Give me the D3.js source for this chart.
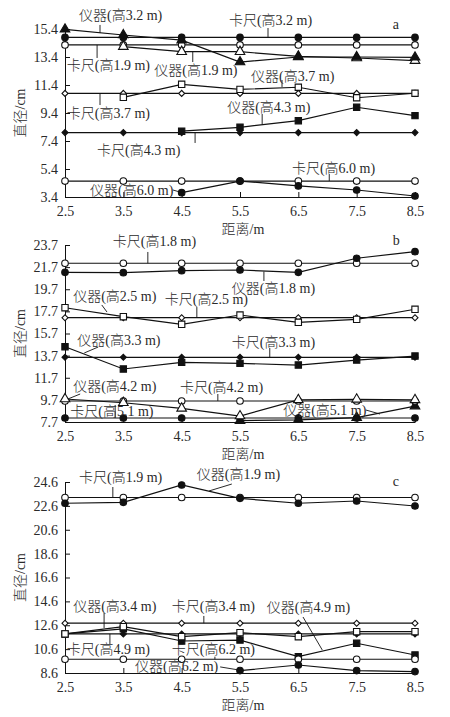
<!DOCTYPE html>
<html>
<head>
<meta charset="utf-8">
<script src="https://cdn.jsdelivr.net/npm/d3@7"></script>
<style>
body { margin: 0; background: #fff; }
text { font-family: "Liberation Serif", "Noto Sans CJK SC", serif; font-size: 14px; font-weight: 300; fill: #2a2a2a; }
</style>
</head>
<body>
<svg id="chart" width="450" height="717"></svg>
<script>
// distances along the x axis (m)
var distance = [2.5, 3.5, 4.5, 5.5, 6.5, 7.5, 8.5];

var ticksA = [3.4, 5.4, 7.4, 9.4, 11.4, 13.4, 15.4];
var ticksB = [7.7, 9.7, 11.7, 13.7, 15.7, 17.7, 19.7, 21.7, 23.7];
var ticksC = [8.6, 10.6, 12.6, 14.6, 16.6, 18.6, 20.6, 22.6, 24.6];

// panel a : diameter (cm), null = not measured
var aCaliper32 = [14.8, 14.8, 14.8, 14.8, 14.8, 14.8, 14.8];
var aInstr32   = [15.38, 14.97, 14.6, 13.04, 13.4, 13.4, 13.38];
var aCaliper19 = [14.26, 14.26, 14.26, 14.26, 14.26, 14.26, 14.26];
var aInstr19   = [null, 14.14, 13.78, 13.78, 13.44, 13.33, 13.14];
var aCaliper37 = [10.8, 10.8, 10.8, 10.8, 10.8, 10.8, 10.8];
var aInstr37   = [null, 10.52, 11.45, 11.09, 11.24, 10.49, 10.81];
var aCaliper43 = [8.0, 8.0, 8.0, 8.0, 8.0, 8.0, 8.0];
var aInstr43   = [null, null, 8.1, 8.38, 8.85, 9.81, 9.21];
var aCaliper60 = [4.54, 4.54, 4.54, 4.54, 4.54, 4.54, 4.54];
var aInstr60   = [null, null, 3.71, 4.54, 4.19, 3.9, 3.47];

// panel b
var bCaliper18 = [22.05, 22.05, 22.05, 22.05, 22.05, 22.05, 22.05];
var bInstr18   = [21.23, 21.2, 21.38, 21.44, 21.23, 22.5, 23.1];
var bCaliper25 = [17.13, 17.13, 17.13, 17.13, 17.13, 17.13, 17.13];
var bInstr25   = [18.03, 17.22, 16.53, 17.37, 16.71, 16.98, 17.89];
var bCaliper33 = [13.55, 13.55, 13.55, 13.55, 13.55, 13.55, 13.55];
var bInstr33   = [14.5, 12.49, 13.09, 13.0, 12.85, 13.3, 13.66];
var bCaliper42 = [9.6, 9.6, 9.6, 9.6, 9.6, 9.6, 9.6];
var bInstr42   = [9.78, 9.44, 8.93, 8.24, 9.7, 9.75, 9.7];
var bCaliper51 = [8.06, 8.06, 8.06, 8.06, 8.06, 8.06, 8.06];
var bInstr51   = [null, null, null, 7.82, 7.9, 8.1, 9.14];

// panel c
var cCaliper19 = [23.3, 23.3, 23.3, 23.3, 23.3, 23.3, 23.3];
var cInstr19   = [22.82, 22.9, 24.35, 23.23, 22.82, 23.01, 22.59];
var cCaliper34 = [12.77, 12.77, 12.77, 12.77, 12.77, 12.77, 12.77];
var cInstr34   = [11.87, 12.48, 11.64, 11.98, 11.64, 12.06, 12.06];
var cCaliper49 = [11.87, 11.87, 11.87, 11.87, 11.87, 11.87, 11.87];
var cInstr49   = [11.87, 12.3, 11.28, 11.36, 9.97, 11.09, 10.11];
var cCaliper62 = [9.75, 9.75, 9.75, 9.75, 9.75, 9.75, 9.75];
var cInstr62   = [null, null, null, 8.8, 9.27, 8.8, 8.72];

var svg = d3.select('#chart');
var x = d3.scaleLinear().domain([2.5, 8.5]).range([65, 415]);

// marker shapes
var shapes = {
  circle:   {type: d3.symbolCircle, size: 34, rot: 0},
  triangle: {type: d3.symbolTriangle, size: 40, rot: 0},
  square:   {type: d3.symbolSquare, size: 40, rot: 0},
  diamond:  {type: d3.symbolSquare, size: 18, rot: 45}
};

var panels = [
  {
    name: 'a', top: 29, bottom: 197, domain: [3.4, 15.4], ticks: ticksA,
    series: [
      {v: aCaliper32, m: 'circle', fill: true},
      {v: aCaliper19, m: 'circle', fill: false},
      {v: aInstr19, m: 'triangle', fill: false},
      {v: aInstr32, m: 'triangle', fill: true},
      {v: aCaliper37, m: 'diamond', fill: false},
      {v: aInstr37, m: 'square', fill: false},
      {v: aCaliper43, m: 'diamond', fill: true},
      {v: aInstr43, m: 'square', fill: true},
      {v: aCaliper60, m: 'circle', fill: false},
      {v: aInstr60, m: 'circle', fill: true}
    ],
    // text start [distance, diameter], leader [x1, y1, x2, y2] in data units
    labels: [
      {t: '仪器(高3.2 m)', at: [2.74, 16.4], ln: [3.1, 15.69, 3.1, 15.11]},
      {t: '卡尺(高3.2 m)', at: [5.31, 16.04], ln: [5.98, 15.47, 5.98, 14.83]},
      {t: '卡尺(高1.9 m)', at: [2.53, 12.76], ln: [3.05, 14.26, 3.05, 13.33]},
      {t: '仪器(高1.9 m)', at: [4.03, 12.47], ln: [4.69, 13.76, 4.69, 13.04]},
      {t: '仪器(高3.7 m)', at: [5.69, 12.04], ln: [6.22, 11.76, 6.22, 11.26]},
      {t: '卡尺(高3.7 m)', at: [2.53, 9.4], ln: [3.1, 10.8, 3.1, 9.97]},
      {t: '仪器(高4.3 m)', at: [5.28, 9.76], ln: [5.88, 9.33, 5.88, 8.61]},
      {t: '卡尺(高4.3 m)', at: [3.05, 6.69], ln: [4.73, 8.0, 4.73, 7.26]},
      {t: '卡尺(高6.0 m)', at: [6.39, 5.47], ln: [7.03, 5.04, 7.03, 4.54]},
      {t: '仪器(高6.0 m)', at: [2.93, 3.9], ln: [4.35, 3.9, 4.5, 3.72]}
    ],
    tag: [8.12, 15.69]
  },
  {
    name: 'b', top: 245, bottom: 422, domain: [7.7, 23.7], ticks: ticksB,
    series: [
      {v: bCaliper18, m: 'circle', fill: false},
      {v: bInstr18, m: 'circle', fill: true},
      {v: bCaliper25, m: 'diamond', fill: false},
      {v: bInstr25, m: 'square', fill: false},
      {v: bCaliper33, m: 'diamond', fill: true},
      {v: bInstr33, m: 'square', fill: true},
      {v: bCaliper51, m: 'circle', fill: true},
      {v: bInstr51, m: 'triangle', fill: true},
      {v: bCaliper42, m: 'circle', fill: false},
      {v: bInstr42, m: 'triangle', fill: false}
    ],
    labels: [
      {t: '卡尺(高1.8 m)', at: [3.32, 24.0], ln: [3.92, 23.07, 3.92, 22.05]},
      {t: '仪器(高1.8 m)', at: [5.36, 19.81], ln: [5.91, 21.3, 5.91, 20.45]},
      {t: '仪器(高2.5 m)', at: [2.64, 19.0], ln: [3.13, 18.28, 3.22, 17.64]},
      {t: '卡尺(高2.5 m)', at: [4.21, 18.73], ln: [4.76, 18.09, 4.76, 17.13]},
      {t: '仪器(高3.3 m)', at: [2.71, 15.11], ln: [3.07, 14.48, 2.83, 13.94]},
      {t: '卡尺(高3.3 m)', at: [5.36, 14.93], ln: [6.01, 14.39, 6.01, 13.55]},
      {t: '仪器(高4.2 m)', at: [2.64, 10.95], ln: [2.76, 10.23, 2.55, 9.78]},
      {t: '卡尺(高4.2 m)', at: [4.47, 10.86], ln: [5.12, 10.23, 5.12, 9.6]},
      {t: '卡尺(高5.1 m)', at: [2.59, 8.69], ln: [3.36, 9.24, 3.36, 8.06]},
      {t: '仪器(高5.1 m)', at: [6.24, 8.78], ln: [7.66, 8.78, 7.9, 8.42]}
    ],
    tag: [8.12, 24.15]
  },
  {
    name: 'c', top: 482, bottom: 673, domain: [8.6, 24.6], ticks: ticksC,
    series: [
      {v: cCaliper19, m: 'circle', fill: false},
      {v: cInstr19, m: 'circle', fill: true},
      {v: cCaliper34, m: 'diamond', fill: false},
      {v: cCaliper49, m: 'diamond', fill: true},
      {v: cInstr49, m: 'square', fill: true},
      {v: cInstr34, m: 'square', fill: false},
      {v: cCaliper62, m: 'circle', fill: false},
      {v: cInstr62, m: 'circle', fill: true}
    ],
    labels: [
      {t: '卡尺(高1.9 m)', at: [2.74, 24.94], ln: [3.32, 24.18, 3.32, 23.3]},
      {t: '仪器(高1.9 m)', at: [4.76, 25.19], ln: [4.97, 23.85, 5.36, 24.43]},
      {t: '仪器(高3.4 m)', at: [2.64, 14.13], ln: [3.17, 13.63, 3.17, 12.37]},
      {t: '卡尺(高3.4 m)', at: [4.33, 14.13], ln: [4.88, 13.38, 4.88, 12.77]},
      {t: '仪器(高4.9 m)', at: [5.96, 14.05], ln: [6.58, 13.29, 6.91, 10.53]},
      {t: '卡尺(高4.9 m)', at: [2.53, 10.53], ln: [3.27, 11.87, 3.27, 11.03]},
      {t: '卡尺(高6.2 m)', at: [4.33, 10.53], ln: [5.07, 9.97, 5.07, 9.75]},
      {t: '仪器(高6.2 m)', at: [3.7, 9.11], ln: [5.16, 9.11, 5.47, 8.86]}
    ],
    tag: [8.12, 24.68]
  }
];

panels.forEach(function(p) {
  var y = d3.scaleLinear().domain(p.domain).range([p.bottom, p.top]);
  var g = svg.append('g').attr('class', 'panel-' + p.name);

  // axes, ticks pointing inward
  g.append('g')
    .attr('transform', 'translate(' + x.range()[0] + ',0)')
    .call(d3.axisLeft(y).tickValues(p.ticks).tickFormat(d3.format('.1f'))
      .tickSizeInner(-5).tickSizeOuter(0).tickPadding(7))
    .call(function(a) {
      a.selectAll('path, line').attr('stroke', '#111');
      a.selectAll('text').attr('font-size', null).attr('font-family', null);
    });
  g.append('g')
    .attr('transform', 'translate(0,' + p.bottom + ')')
    .call(d3.axisBottom(x).tickValues(distance).tickFormat(d3.format('.1f'))
      .tickSizeInner(-5).tickSizeOuter(0).tickPadding(9))
    .call(function(a) {
      a.selectAll('path, line').attr('stroke', '#111');
      a.selectAll('text').attr('font-size', null).attr('font-family', null);
    });

  g.append('text')
    .attr('x', (x.range()[0] + x.range()[1]) / 2 + 3)
    .attr('y', p.bottom + 32)
    .attr('text-anchor', 'middle')
    .attr('dominant-baseline', 'central')
    .text('距离/m');

  g.append('text')
    .attr('transform', 'translate(20,' + ((p.top + p.bottom) / 2) + ') rotate(-90)')
    .attr('text-anchor', 'middle')
    .attr('dominant-baseline', 'central')
    .text('直径/cm');

  g.append('text')
    .attr('x', x(p.tag[0])).attr('y', y(p.tag[1]))
    .attr('dominant-baseline', 'central')
    .text(p.name);

  // series lines
  var line = d3.line()
    .defined(function(d) { return d != null; })
    .x(function(d, i) { return x(distance[i]); })
    .y(function(d) { return y(d); });

  p.series.forEach(function(s) {
    g.append('path')
      .datum(s.v)
      .attr('fill', 'none')
      .attr('stroke', '#111')
      .attr('stroke-width', 1.2)
      .attr('d', line);
  });

  // markers on top of all lines
  p.series.forEach(function(s) {
    var sh = shapes[s.m];
    var sym = d3.symbol().type(sh.type).size(sh.size);
    g.selectAll(null)
      .data(s.v.map(function(v, i) { return {v: v, d: distance[i]}; })
        .filter(function(o) { return o.v != null; }))
      .enter().append('path')
      .attr('transform', function(o) {
        return 'translate(' + x(o.d) + ',' + y(o.v) + ') rotate(' + sh.rot + ')';
      })
      .attr('d', sym)
      .attr('fill', s.fill ? '#111' : '#fff')
      .attr('stroke', '#111')
      .attr('stroke-width', 1.1);
  });

  // annotation labels with leader lines
  p.labels.forEach(function(l) {
    g.append('line')
      .attr('x1', x(l.ln[0])).attr('y1', y(l.ln[1]))
      .attr('x2', x(l.ln[2])).attr('y2', y(l.ln[3]))
      .attr('stroke', '#111').attr('stroke-width', 0.9);
    g.append('text')
      .attr('x', x(l.at[0])).attr('y', y(l.at[1]))
      .attr('dominant-baseline', 'central')
      .text(l.t);
  });
});
</script>
</body>
</html>
